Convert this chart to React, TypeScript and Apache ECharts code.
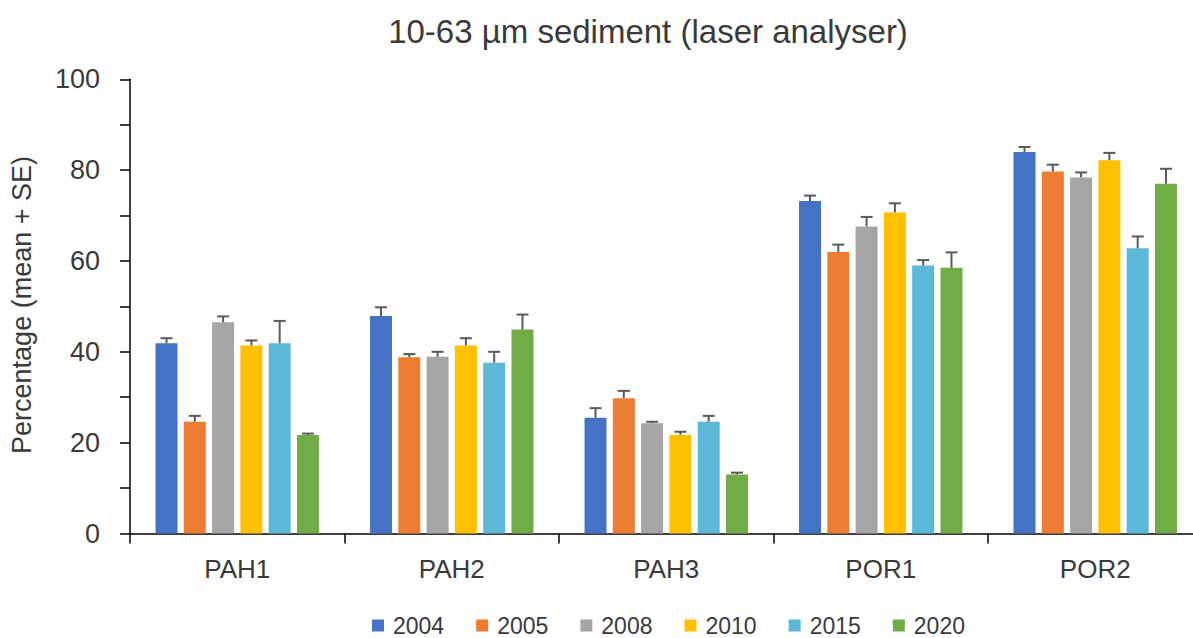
import React, { useEffect, useRef } from "react";
import * as echarts from "echarts";

// Sampling sites on the category axis
const sites = ["PAH1", "PAH2", "PAH3", "POR1", "POR2"];

// Survey years, one bar series each
const years = ["2004", "2005", "2008", "2010", "2015", "2020"];
const yearColors = ["#4472C4", "#ED7D31", "#A5A5A5", "#FFC000", "#5BB8D8", "#70AD47"];

// Mean percentage of 10-63 µm sediment per site, by year
const mean2004 = [41.9, 47.9, 25.5, 73.2, 84.0];
const mean2005 = [24.6, 38.8, 29.8, 62.0, 79.7];
const mean2008 = [46.5, 38.9, 24.3, 67.6, 78.4];
const mean2010 = [41.4, 41.4, 21.7, 70.7, 82.2];
const mean2015 = [41.9, 37.6, 24.6, 59.0, 62.8];
const mean2020 = [21.7, 44.9, 13.0, 58.5, 77.0];

// Standard errors (drawn above each bar)
const se2004 = [1.1, 1.9, 2.1, 1.2, 1.1];
const se2005 = [1.3, 0.7, 1.6, 1.6, 1.5];
const se2008 = [1.3, 1.1, 0.3, 2.1, 1.1];
const se2010 = [1.1, 1.6, 0.7, 2.0, 1.6];
const se2015 = [4.9, 2.4, 1.3, 1.2, 2.6];
const se2020 = [0.3, 3.3, 0.4, 3.4, 3.3];

const yTicks = { min: 0, max: 100, step: 10, labelStep: 20 };

const means = [mean2004, mean2005, mean2008, mean2010, mean2015, mean2020];
const ses = [se2004, se2005, se2008, se2010, se2015, se2020];

const BAR_GAP = "28.6%";
const CAT_GAP = "23.8%";
const FONT = "'Liberation Sans', Arial, sans-serif";
const TEXT = "#3a3a3a";

export default function App() {
  const ref = useRef<HTMLDivElement | null>(null);

  useEffect(() => {
    if (!ref.current) return;
    const chart = echarts.init(ref.current, undefined, { renderer: "svg" });

    const barSeries = years.map((y, i) => ({
      name: y,
      type: "bar",
      data: means[i],
      barGap: BAR_GAP,
      barCategoryGap: CAT_GAP,
      itemStyle: { color: yearColors[i] },
      z: 2,
    }));

    const errSeries = years.map((y, i) => ({
      name: "SE " + y,
      type: "custom",
      z: 5,
      data: sites.map((_, c) => [c, means[i][c], ses[i][c]]),
      encode: { x: 0, y: 1 },
      renderItem: (params: any, api: any) => {
        const c = api.value(0);
        const m = api.value(1);
        const s = api.value(2);
        const base = api.coord([c, m]);
        const top = api.coord([c, m + s]);
        const layout = api.barLayout({
          barGap: BAR_GAP,
          barCategoryGap: CAT_GAP,
          count: years.length,
        });
        const x = base[0] + layout[i].offsetCenter;
        const half = 6;
        const style = { stroke: "#5a5a5a", lineWidth: 2 };
        return {
          type: "group",
          children: [
            { type: "line", shape: { x1: x, y1: base[1], x2: x, y2: top[1] }, style },
            { type: "line", shape: { x1: x - half, y1: top[1], x2: x + half, y2: top[1] }, style },
          ],
        };
      },
    }));

    chart.setOption({
      animation: false,
      backgroundColor: "#ffffff",
      textStyle: { fontFamily: FONT },
      grid: { left: 130, right: 7.5, top: 79.3, bottom: 104.5, containLabel: false },
      graphic: [
        {
          type: "text",
          x: 648,
          y: 31,
          style: {
            text: "10-63 \u00b5m sediment (laser analyser)",
            font: `33px ${FONT}`,
            fill: TEXT,
            textAlign: "center",
            textVerticalAlign: "middle",
          },
        },
        {
          type: "text",
          x: 22,
          y: 305,
          rotation: Math.PI / 2,
          style: {
            text: "Percentage (mean + SE)",
            font: `27px ${FONT}`,
            fill: TEXT,
            textAlign: "center",
            textVerticalAlign: "middle",
          },
        },
      ],
      legend: {
        data: years,
        left: 372,
        top: 614,
        padding: 0,
        icon: "rect",
        itemWidth: 12,
        itemHeight: 12,
        itemGap: 32,
        textStyle: {
          fontSize: 23,
          lineHeight: 22,
          color: TEXT,
          padding: [0, 0, 0, 4],
          fontFamily: FONT,
        },
      },
      xAxis: {
        type: "category",
        data: sites,
        boundaryGap: true,
        axisLine: { lineStyle: { color: "#000", width: 1.5 } },
        axisTick: { show: true, length: 10, inside: false, alignWithLabel: false, lineStyle: { color: "#000", width: 1.5 } },
        axisLabel: { fontSize: 26, color: TEXT, margin: 22, fontFamily: FONT },
        splitLine: { show: false },
      },
      yAxis: {
        type: "value",
        min: yTicks.min,
        max: yTicks.max,
        interval: yTicks.step,
        axisLine: { show: true, lineStyle: { color: "#000", width: 1.5 } },
        axisTick: { show: true, length: 10, inside: false, lineStyle: { color: "#000", width: 1.5 } },
        axisLabel: {
          fontSize: 27,
          color: TEXT,
          margin: 30,
          fontFamily: FONT,
          formatter: (v: number) => (v % yTicks.labelStep === 0 ? String(v) : ""),
        },
        splitLine: { show: false },
      },
      series: [...barSeries, ...errSeries],
    });

    return () => chart.dispose();
  }, []);

  return (
    <div
      ref={ref}
      style={{ position: "fixed", left: 0, top: 0, width: 1210, height: 638, background: "#fff" }}
    />
  );
}
